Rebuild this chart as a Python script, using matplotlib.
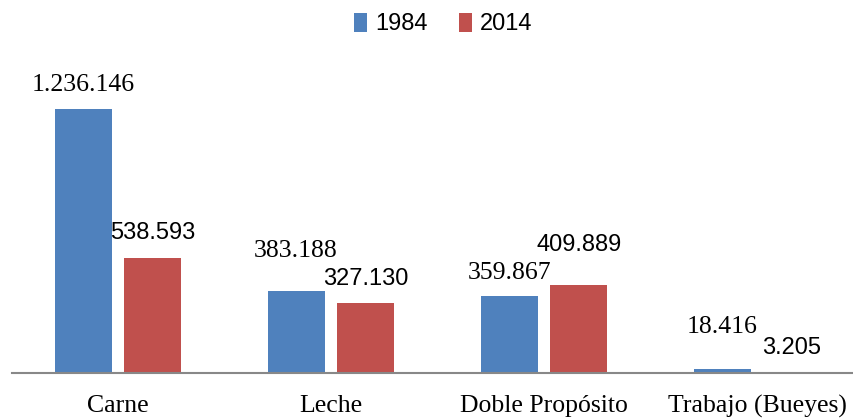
import matplotlib.pyplot as plt
import numpy as np

categories = ['Carne', 'Leche', 'Doble Propósito', 'Trabajo (Bueyes)']
series_names = ['1984', '2014']
values_1984 = [1236146, 383188, 359867, 18416]
values_2014 = [538593, 327130, 409889, 3205]
labels_1984 = ['1.236.146', '383.188', '359.867', '18.416']
labels_2014 = ['538.593', '327.130', '409.889', '3.205']

blue = '#4F81BD'
red = '#C0504D'

fig = plt.figure(figsize=(8.54, 4.19), dpi=100)
# axes runs from x=11.5px past the right edge of the figure
ax = fig.add_axes([11.5 / 854, 46 / 419, 1 - 11.5 / 854, 299 / 419])

x = np.arange(len(categories))
w = 0.268
off = 0.164
ax.bar(x - off, values_1984, w, color=blue, label=series_names[0])
ax.bar(x + off, values_2014, w, color=red, label=series_names[1])

ax.set_xlim(-0.5, (854 - 11.5) / 213 - 0.5)
ax.set_ylim(0, 1.4e6)

# baseline offsets in points (placement as in the source)
offs_1984 = [13, 24.5, 12, 26]
offs_2014 = [14, 13, 25, 13]
for i in range(len(categories)):
    ax.annotate(labels_1984[i], (x[i] - off, values_1984[i]), xytext=(0, offs_1984[i]),
                textcoords='offset points', ha='center', va='baseline',
                family='Liberation Serif', fontsize=18.5)
    ax.annotate(labels_2014[i], (x[i] + off, values_2014[i]), xytext=(0, offs_2014[i]),
                textcoords='offset points', ha='center', va='baseline',
                family='Liberation Sans', fontsize=17)

for s in ['top', 'right', 'left']:
    ax.spines[s].set_visible(False)
ax.spines['bottom'].set_color('#888888')
ax.spines['bottom'].set_linewidth(1.5)
ax.set_yticks([])
ax.set_xticks(x)
ax.set_xticklabels(categories, family='Liberation Serif', fontsize=18.5)
ax.tick_params(axis='x', length=0, pad=16)

fig.legend(loc='upper center', bbox_to_anchor=(0.519, 1.02), ncol=2, frameon=False,
           prop={'family': 'Liberation Sans', 'size': 17}, handlelength=0.55,
           handleheight=0.85, handletextpad=0.35, columnspacing=1.3)

fig.savefig('out.png', dpi=100)
